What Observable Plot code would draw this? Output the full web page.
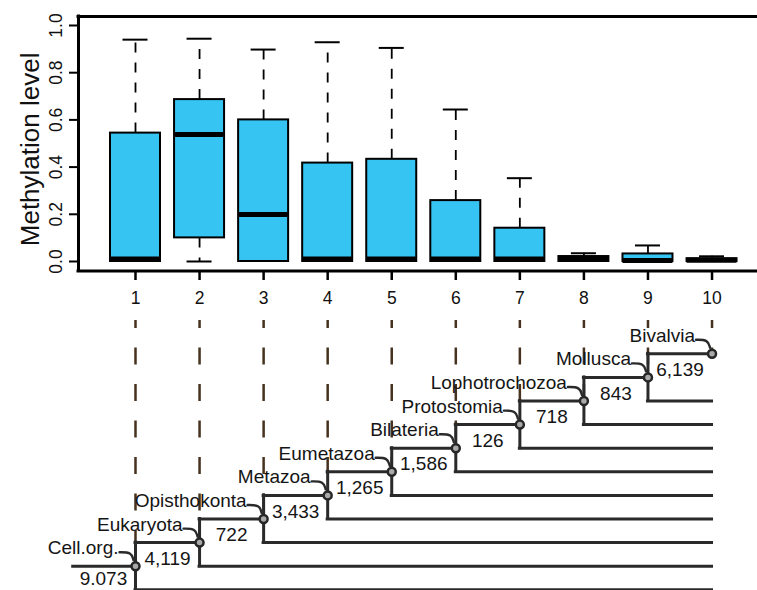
<!DOCTYPE html>
<html>
<head>
<meta charset="utf-8">
<script src="https://cdn.jsdelivr.net/npm/d3@7"></script>
<script src="https://cdn.jsdelivr.net/npm/@observablehq/plot@0.6"></script>
<style>
html, body { margin: 0; padding: 0; background: #fff; }
#chart svg { display: block; }
</style>
</head>
<body>
<div id="chart"></div>
<script>
// ---------- data ----------
const groups = [1, 2, 3, 4, 5, 6, 7, 8, 9, 10];
const whiskerLow  = [0, 0, 0, 0, 0, 0, 0, 0, 0, 0];
const q1          = [0, 0.10, 0, 0, 0, 0, 0, 0, 0, 0];
const medians     = [0.011, 0.538, 0.199, 0.011, 0.011, 0.011, 0.011, 0.009, 0.004, 0.005];
const q3          = [0.544, 0.686, 0.600, 0.417, 0.433, 0.258, 0.141, 0.021, 0.032, 0.012];
const whiskerHigh = [0.940, 0.944, 0.898, 0.929, 0.905, 0.644, 0.353, 0.035, 0.068, 0.022];
const yTicks = [0, 0.2, 0.4, 0.6, 0.8, 1.0];
const yTitle = "Methylation level";
const cladeNames = ["Cell.org.", "Eukaryota", "Opisthokonta", "Metazoa", "Eumetazoa",
  "Bilateria", "Protostomia", "Lophotrochozoa", "Mollusca", "Bivalvia"];
const branchCounts = ["9.073", "4,119", "722", "3,433", "1,265", "1,586", "126", "718", "843", "6,139"];

// ---------- layout ----------
const W = 757, H = 590;
const xDomain = [-1.1074, 10.7098];
const yDomain = [-1.3941, 1.1059];
const xs = d3.scaleLinear(xDomain, [0, W]);
const ys = d3.scaleLinear(yDomain, [H, 0]);
const X = p => xs.invert(p);            // pixel -> x value
const Y = p => ys.invert(p);            // pixel -> y value
const dxu = p => p * (xDomain[1] - xDomain[0]) / W;
const dyu = p => p * (yDomain[1] - yDomain[0]) / H;
const rowY = r => Y(589.3 - 23.6 * r);  // tree rows

const boxFill = "#36c4f2";
const treeColor = "#2a2a2a";
const guideColor = "#46321f";
const font = "Liberation Sans, Arial, Helvetica, sans-serif";

const boxes = groups.map((g, i) => ({
  g, lo: whiskerLow[i], q1: q1[i], med: medians[i], q3: q3[i], hi: whiskerHigh[i]
}));
const halfBox = dxu(25), halfCap = dxu(12.5);
const lowW = boxes.filter(d => d.q1 > d.lo);

const inner = groups.slice(0, 9); // internal nodes 1..9
const connectors = groups.flatMap(k => [
  {k, x: k - dxu(16), y: rowY(k) + dyu(14)},
  {k, x: k - dxu(4),  y: rowY(k) + dyu(14)},
  {k, x: k - dxu(2),  y: rowY(k) + dyu(6)}
]);
const counts = branchCounts.map((t, i) => ({t, i}));

const frameTop = Y(16), frameBottom = Y(270.5), frameLeft = X(78);

const chart = Plot.plot({
  width: W, height: H,
  marginTop: 0, marginRight: 0, marginBottom: 0, marginLeft: 0,
  x: {domain: xDomain, axis: null},
  y: {domain: yDomain, axis: null},
  style: {background: "#fff", color: "#111", fontFamily: font},
  marks: [
    // ----- box plot frame -----
    Plot.ruleY([frameTop], {x1: frameLeft, x2: X(W), stroke: "#000", strokeWidth: 3, strokeLinecap: "square"}),
    Plot.ruleY([frameBottom], {x1: frameLeft, x2: X(W), stroke: "#000", strokeWidth: 3, strokeLinecap: "square"}),
    Plot.ruleX([frameLeft], {y1: frameBottom, y2: frameTop, stroke: "#000", strokeWidth: 3, strokeLinecap: "square"}),
    // y axis
    Plot.ruleY(yTicks, {y: d => d, x1: X(69), x2: frameLeft, stroke: "#000", strokeWidth: 2}),
    Plot.text(yTicks, {y: d => d, x: X(56), text: d => d.toFixed(1), rotate: -90, fontSize: 17.5, fontFamily: font, fill: "#111"}),
    Plot.text([yTitle], {x: X(30), y: 0.475, text: d => d, rotate: -90, fontSize: 26, fontFamily: font, fill: "#111"}),
    // x axis
    Plot.ruleX(groups, {x: d => d, y1: frameBottom, y2: Y(280), stroke: "#000", strokeWidth: 2.5}),
    Plot.text(groups, {x: d => d, y: Y(298), text: d => String(d), fontSize: 17.5, fontFamily: font, fill: "#111"}),
    // whiskers
    Plot.ruleX(boxes, {x: "g", y1: "q3", y2: "hi", stroke: "#000", strokeWidth: 1.8, strokeDasharray: "10,10"}),
    Plot.ruleX(lowW, {x: "g", y1: "q1", y2: "lo", stroke: "#000", strokeWidth: 1.8, strokeDasharray: "10,10"}),
    Plot.ruleY(boxes, {y: "hi", x1: d => d.g - halfCap, x2: d => d.g + halfCap, stroke: "#000", strokeWidth: 2}),
    Plot.ruleY(lowW, {y: "lo", x1: d => d.g - halfCap, x2: d => d.g + halfCap, stroke: "#000", strokeWidth: 2}),
    // boxes
    Plot.rect(boxes, {x1: d => d.g - halfBox, x2: d => d.g + halfBox, y1: "q1", y2: "q3",
      fill: boxFill, stroke: "#000", strokeWidth: 2}),
    Plot.ruleY(boxes, {y: "med", x1: d => d.g - halfBox, x2: d => d.g + halfBox, stroke: "#000", strokeWidth: 5}),

    // ----- tree -----
    Plot.ruleX(groups, {x: d => d, y1: Y(320), y2: d => rowY(d), stroke: guideColor, strokeWidth: 2.5,
      strokeDasharray: "17,19.5", strokeDashoffset: 9}),
    Plot.ruleY([rowY(1)], {x1: X(72.7), x2: 1, stroke: treeColor, strokeWidth: 3, strokeLinecap: "square"}),
    Plot.ruleX(inner, {x: d => d, y1: d => rowY(d - 1), y2: d => rowY(d + 1), stroke: treeColor, strokeWidth: 3, strokeLinecap: "square"}),
    Plot.ruleY(inner, {y: d => rowY(d - 1), x1: d => d, x2: groups[groups.length - 1], stroke: treeColor, strokeWidth: 3, strokeLinecap: "square"}),
    Plot.ruleY(inner, {y: d => rowY(d + 1), x1: d => d, x2: d => d + 1, stroke: treeColor, strokeWidth: 3, strokeLinecap: "square"}),
    Plot.line(connectors, {x: "x", y: "y", z: "k", curve: "basis", stroke: treeColor, strokeWidth: 2.4}),
    Plot.dot(groups, {x: d => d, y: d => rowY(d), r: 4, fill: "#a9a9a9", stroke: "#262626", strokeWidth: 2.5}),
    Plot.text(cladeNames, {x: (d, i) => groups[i], y: (d, i) => rowY(groups[i]), text: d => d,
      dx: -17, dy: -18, textAnchor: "end", fontSize: 19, fontFamily: font, fill: "#151515"}),
    // root branch count sits at the very bottom edge; keep it fully inside
    Plot.text(counts.filter(d => d.i === 0), {x: d => d.i + 0.5, y: d => rowY(d.i), text: "t",
      dy: -11, fontSize: 19, fontFamily: font, fill: "#151515"}),
    Plot.text(counts.filter(d => d.i > 0), {x: d => d.i + 0.5, y: d => rowY(d.i), text: "t",
      dy: -7.5, fontSize: 19, fontFamily: font, fill: "#151515"})
  ]
});
document.getElementById("chart").appendChild(chart);
</script>
</body>
</html>
